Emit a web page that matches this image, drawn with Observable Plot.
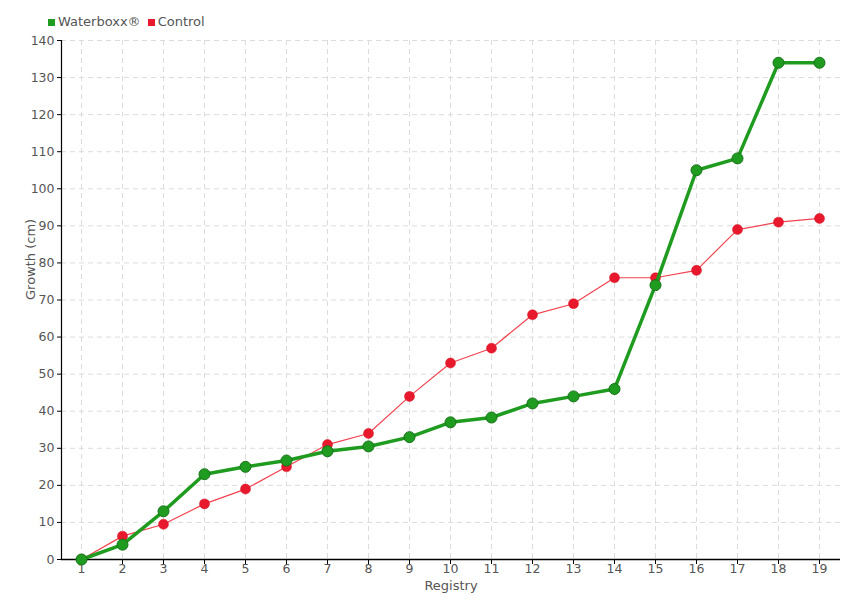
<!DOCTYPE html>
<html>
<head>
<meta charset="utf-8">
<script src="https://cdn.jsdelivr.net/npm/d3@7"></script>
<script src="https://cdn.jsdelivr.net/npm/@observablehq/plot@0.6"></script>
<style>
  body { margin: 0; background: #fff; font-family: "DejaVu Sans", sans-serif; }
  #wrap { position: relative; width: 860px; height: 600px; }
  #legend { position: absolute; left: 48px; top: 14px; font-size: 13px; color: #555; display: flex; gap: 7px; align-items: center; }
  #legend span.sw { display: inline-block; width: 7px; height: 7px; margin-right: 3px; }
  #chart { position: absolute; left: 0; top: 30px; }
</style>
</head>
<body>
<div id="wrap">
  <div id="legend">
    <span><span class="sw" style="background:#1f9c1f"></span>Waterboxx®</span>
    <span><span class="sw" style="background:#e8192c"></span>Control</span>
  </div>
  <div id="chart"></div>
</div>
<script>
const registry = [1,2,3,4,5,6,7,8,9,10,11,12,13,14,15,16,17,18,19];
const waterboxx = [0,4,13,23,25,26.7,29.2,30.5,33,37,38.3,42.1,44,46,74,105,108.2,134,134];
const control = [0,6.3,9.5,15,19,25,31,34,44,53,57,66,69,76,76,78,89,91,92];
const yTicks = [0,10,20,30,40,50,60,70,80,90,100,110,120,130,140];

const wData = registry.map((r,i) => ({r, v: waterboxx[i]}));
const cData = registry.map((r,i) => ({r, v: control[i]}));

const chart = Plot.plot({
  width: 860,
  height: 570,
  marginTop: 10,
  marginLeft: 61,
  marginRight: 20,
  marginBottom: 41,
  style: { fontFamily: '"DejaVu Sans", sans-serif', fontSize: "12.5px", color: "#555", background: "#fff" },
  x: { type: "point", domain: registry, padding: 0.47, align: 0.49, label: null },
  y: { domain: [0, 140], label: null },
  marks: [
    Plot.gridX(registry, { stroke: "#dcdcdc", strokeOpacity: 1, strokeDasharray: "5,4" }),
    Plot.gridY(yTicks, { stroke: "#dcdcdc", strokeOpacity: 1, strokeDasharray: "5,4" }),
    Plot.axisX(registry, { tickSize: 5, tickPadding: 0, fill: "#555", stroke: "#000", label: null }),
    Plot.axisY(yTicks, { tickSize: 4, tickPadding: 3, fill: "#555", stroke: "#000", label: null }),
    Plot.frame({ anchor: "left", stroke: "#000", strokeWidth: 1.2 }),
    Plot.ruleY([0], { stroke: "#000", strokeWidth: 1.5 }),
    Plot.text(["Registry"], { frameAnchor: "bottom", dy: 30, fill: "#555", fontSize: 13 }),
    Plot.text(["Growth (cm)"], { frameAnchor: "left", dx: -31, rotate: -90, fill: "#555", fontSize: 13 }),
    Plot.line(cData, { x: "r", y: "v", stroke: "#f2434f", strokeWidth: 1.2 }),
    Plot.dot(cData, { x: "r", y: "v", r: 5, fill: "#e8192c", stroke: "#d01525", strokeWidth: 0.5 }),
    Plot.line(wData, { x: "r", y: "v", stroke: "#1f9c1f", strokeWidth: 3.5 }),
    Plot.dot(wData, { x: "r", y: "v", r: 5.5, fill: "#1f9c1f", stroke: "#17721a", strokeWidth: 1 })
  ]
});
document.getElementById("chart").appendChild(chart);
</script>
</body>
</html>
